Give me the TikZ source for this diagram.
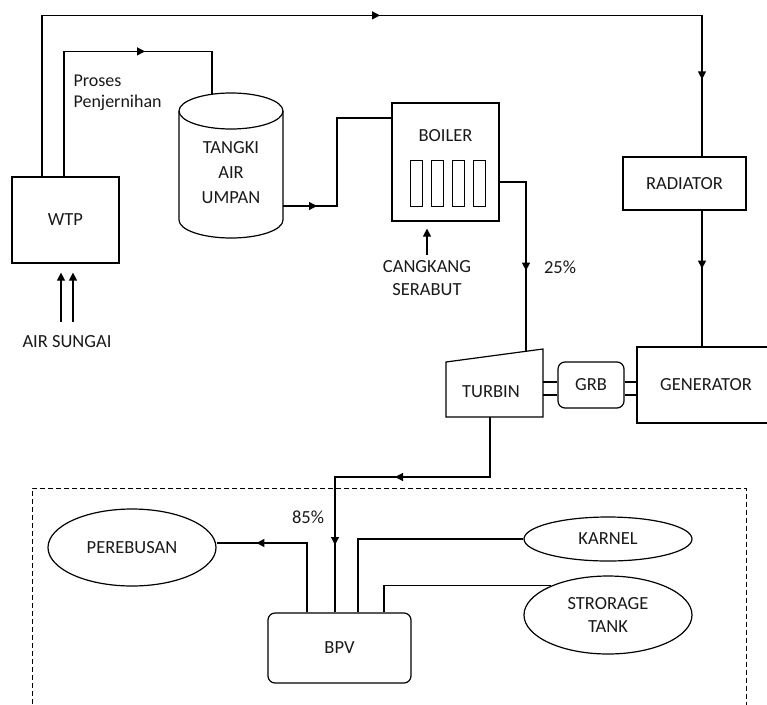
\documentclass[tikz,border=0pt]{standalone}
\usepackage{fontspec}
\setmainfont{Carlito}
\usetikzlibrary{shapes.geometric,arrows.meta,decorations.markings,positioning}

\tikzset{
  flowtip/.tip={Triangle[length=8pt,width=8pt]},
  tipat/.style={postaction={decorate},
    decoration={markings,mark=at position #1 with {\arrow{flowtip}}}},
  tiptwo/.style 2 args={postaction={decorate},
    decoration={markings,mark=at position #1 with {\arrow{flowtip}},
      mark=at position #2 with {\arrow{flowtip}}}}
}

\begin{document}
\begin{tikzpicture}[
  x=1pt, y=-1pt,
  line width=1.2pt,
  font=\fontsize{18.5}{25}\selectfont,
  box/.style={draw, inner sep=0pt, align=center, text=black!90},
  rbox/.style={box, rounded corners=7pt},
  oval/.style={draw, ellipse, inner sep=0pt, align=center, text=black!90},
  lbl/.style={inner sep=0pt, align=center, text=black!90},
  zone/.style={line width=1pt, dash pattern=on 5pt off 3pt}
]
\useasboundingbox (0,0) rectangle (767,704);

% main units
\node[box, minimum width=107pt, minimum height=86pt] (wtp) at (65.5,220) {WTP};
% feed water tank
\draw (179,111) -- (179,220) arc[start angle=180, end angle=360, x radius=52pt, y radius=18pt] -- (283,111);
\draw (231,111) ellipse[x radius=52pt, y radius=18pt];
\node[lbl] (tank) at (231,173) {TANGKI\\AIR\\UMPAN};
\node[box, minimum width=107pt, minimum height=118pt] (boiler) at (445.5,162) {};
\node[lbl] (boilertxt) at (445.5,136) {BOILER};
\foreach \tx in {416.5,437.5,458,479.5}
  \draw[line width=1pt] (\tx-6,160) rectangle (\tx+6,206);
\node[box, minimum width=123pt, minimum height=53pt] (radiator) at (684.5,183.5) {RADIATOR};
\node[rbox, minimum width=66pt, minimum height=46pt] (grb) at (591,385) {GRB};
\node[box, minimum width=138pt, minimum height=76pt] (gen) at (706,385) {GENERATOR};

% turbine
\draw (446,417) -- (446,362) -- (543,349) -- (543,417) -- cycle;
\node[lbl] (turbine) at (491,392) {TURBIN};
\coordinate (turbin) at (526,351.3);
\coordinate (turbout) at (490,417);

% process area
\draw[zone] (32,712) |- (746,488) -- (746,712);
\node[rbox, minimum width=143pt, minimum height=70pt] (bpv) at (339.5,648) {BPV};
\node[oval, minimum width=168pt, minimum height=77pt] (pere) at (132,547.5) {PEREBUSAN};
\node[oval, minimum width=168pt, minimum height=44pt] (karnel) at (608,539) {KARNEL};
\node[oval, minimum width=168pt, minimum height=78pt] (storage) at (608,615) {STRORAGE\\[-2pt]TANK};

% labels
\node[lbl, align=left, anchor=west, font=\fontsize{18}{21}\selectfont] (proses) at (73,92.5) {Proses\\Penjernihan};
\node[lbl] (sungai) at (67,342) {AIR SUNGAI};
\node[lbl, font=\fontsize{18.5}{23}\selectfont] (cangkang) at (427,278.5) {CANGKANG\\SERABUT};
\node[lbl] (p25) at (560,267) {25\%};
\node[lbl] (p85) at (308,517) {85\%};

\coordinate (tankin) at (212,94);
\coordinate (tankout) at (283,206);
\coordinate (riv) at (67,322);

% flows
\draw[tiptwo={499pt}{885pt}] ([xshift=-23.5pt]wtp.north) -- ++(0,-161) -| ([xshift=17.5pt]radiator.north);
\draw[tipat=206pt] ([xshift=-1.5pt]wtp.north) -- ++(0,-125) -| (tankin);
\draw[tipat=34pt] (tankout) -- ++(54,0) |- ([yshift=44pt]boiler.west);
\draw[tipat=115pt] ([yshift=-20pt]boiler.east) -| (turbin);
\draw[tipat=58pt] ([xshift=17.5pt]radiator.south) -- ([xshift=17.5pt]radiator.south |- gen.north);
\draw[tiptwo={155pt}{283pt}] (turbout) -- ++(0,60) -| ([xshift=-4.5pt]bpv.north);
\draw[tipat=120pt] ([xshift=-32.5pt]bpv.north) |- ([yshift=4.5pt]pere.east);
\draw ([xshift=18.5pt]bpv.north) |- (karnel.west);
\draw ([xshift=44.5pt]bpv.north) |- (storage.153);
\foreach \dx in {-6,6}
  \draw[-flowtip, shorten >=9pt] ([xshift=\dx pt]riv) -- ([xshift=\dx pt]riv |- wtp.south);
\draw[-flowtip, shorten >=7pt] ([yshift=5pt]cangkang.north) -- (cangkang.north |- boiler.south);

% shafts
\coordinate (s1) at (543,382);
\coordinate (s2) at (543,395);
\foreach \s in {s1,s2} {
  \draw (\s) -- (\s -| grb.west);
  \draw (\s -| grb.east) -- (\s -| gen.west);
}
\end{tikzpicture}
\end{document}
